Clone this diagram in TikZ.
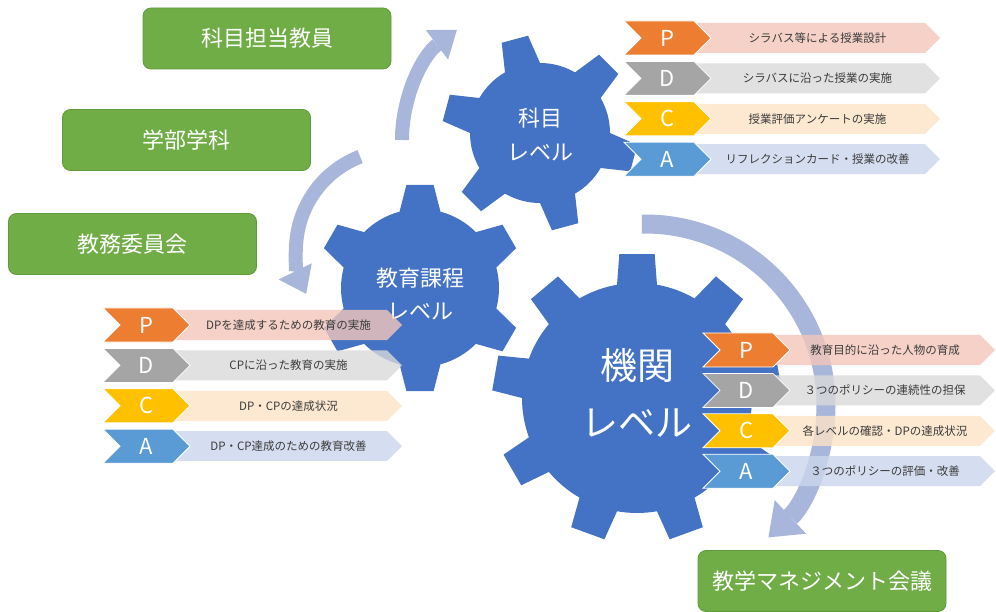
\documentclass[tikz,border=0pt]{standalone}
\usepackage{fontspec}
\setmainfont{Noto Sans CJK JP}
\usepackage{xcolor}
\usepackage{tikz}
\usetikzlibrary{calc}
\usetikzlibrary{positioning}
\usetikzlibrary{arrows.meta}
\usetikzlibrary{shapes.symbols}

\definecolor{cogblue}{HTML}{4472C4}
\definecolor{loopblue}{HTML}{A9B6DB}
\definecolor{rolegreen}{HTML}{70AD47}
\definecolor{roleedge}{HTML}{5F9A3B}
\definecolor{pcol}{HTML}{ED7D31}
\definecolor{dcol}{HTML}{A5A5A5}
\definecolor{ccol}{HTML}{FFC000}
\definecolor{acol}{HTML}{5B9BD5}
\definecolor{plight}{HTML}{F3C6BA}
\definecolor{dlight}{HTML}{D9D9D9}
\definecolor{clight}{HTML}{FCE4C7}
\definecolor{alight}{HTML}{CBD6EC}
\definecolor{chevtext}{HTML}{3B3B3B}

% cog: center, teeth, body radius, tip radius, first tooth, half angle at base, half angle at tip
\newcommand{\cogwheel}[7]{%
  \pgfmathsetmacro{\cogstep}{360/#2}
  \fill[cogblue,shift={#1}] ({#5-#6}:#3)
    \foreach \k in {1,...,#2}{
      -- ({#5+(\k-1)*\cogstep-#7}:#4) -- ({#5+(\k-1)*\cogstep+#7}:#4)
      -- ({#5+(\k-1)*\cogstep+#6}:#3)
      arc[start angle={#5+(\k-1)*\cogstep+#6}, end angle={#5+\k*\cogstep-#6}, radius=#3]
    } -- cycle;
}

\begin{document}
\begin{tikzpicture}[x=1pt,y=-1pt,
      role box/.style={rectangle,rounded corners=8pt,fill=rolegreen,draw=roleedge,
        line width=0.8pt,minimum width=248pt,minimum height=61pt,text=white,
        font=\fontsize{22}{26}\selectfont},
      cog label/.style={align=center,text=white},
      letter chev/.style={signal,signal from=west,signal to=east,signal pointer angle=90,
        draw=white,line width=0.8pt,minimum width=87pt,minimum height=34pt,inner sep=0pt,
        text=white,font=\fontsize{22}{24}\selectfont},
      text chev/.style={signal,signal from=west,signal to=east,signal pointer angle=90,
        minimum height=30pt,inner sep=0pt,fill opacity=0.8,text opacity=1,text=chevtext,
        font=\fontsize{11.5}{13}\selectfont},
      cycle arrow/.style={loopblue,line width=14pt,
        -{Triangle[width=37pt,length=25pt,line width=0pt]}}
      ]
      \useasboundingbox (0,0) rectangle (996,612);

      \coordinate (cS) at (540,133);
      \coordinate (cM) at (420,288);
      \coordinate (cL) at (637,398);
      \coordinate (aS) at (540,140);
      \coordinate (aM) at (396,250);
      \coordinate (aL) at (645,405);

      % gears
      \cogwheel{(cS)}{6}{70}{98}{15}{15}{8}
      \cogwheel{(cM)}{6}{79}{104}{30}{15}{7.5}
      \cogwheel{(cL)}{9}{115}{145}{30}{10}{7}

      \node[cog label,font=\fontsize{22}{34}\selectfont] (lS) at ([yshift=-2pt]cS) {科目\\レベル};
      \node[cog label,font=\fontsize{22}{33}\selectfont] (lM) at ([yshift=-6pt]cM) {教育課程\\レベル};
      \node[cog label,font=\fontsize{37}{57}\selectfont] (lL) at ([yshift=5pt]cL) {機関\\レベル};

      % circular arrows
      \draw[cycle arrow] ($(aS)+(-180:138)$) arc[start angle=-180,end angle=-127,radius=138];
      \draw[cycle arrow] ($(aM)+(-111:100)$) arc[start angle=-111,end angle=-206,radius=100];
      \draw[cycle arrow,line width=19pt,-{Triangle[width=46pt,length=30pt,line width=0pt]}]
        ($(aL)+(-91:181)$) arc[start angle=-91,end angle=47,radius=181];

      % roles
      \node[role box] (tch) at (267,38.5) {科目担当教員};
      \node[role box] (dept) at (186.5,140) {学部学科};
      \node[role box] (cmte) at (132.5,244) {教務委員会};
      \node[role box] (mgmt) at (822,581) {教学マネジメント会議};

      % PDCA of the subject level
      \node[text chev,fill=plight,minimum width=245pt] (sP) at (817.5,38) {シラバス等による授業設計};
      \node[text chev,fill=dlight,minimum width=245pt,below=10pt of sP] (sD) {シラバスに沿った授業の実施};
      \node[text chev,fill=clight,minimum width=245pt,below=10pt of sD] (sC) {授業評価アンケートの実施};
      \node[text chev,fill=alight,minimum width=245pt,below=10pt of sC] (sA) {リフレクションカード・授業の改善};
      \node[letter chev,fill=pcol] (sPk) at ([xshift=-150pt]sP) {P};
      \node[letter chev,fill=dcol] (sDk) at ([xshift=-150pt]sD) {D};
      \node[letter chev,fill=ccol] (sCk) at ([xshift=-150pt]sC) {C};
      \node[letter chev,fill=acol] (sAk) at ([xshift=-150pt]sA) {A};

      % PDCA of the curriculum level
      \node[text chev,fill=plight,minimum width=227pt] (mP) at (288.5,325) {DPを達成するための教育の実施};
      \node[text chev,fill=dlight,minimum width=227pt,below=10pt of mP] (mD) {CPに沿った教育の実施};
      \node[text chev,fill=clight,minimum width=227pt,below=10pt of mD] (mC) {DP・CPの達成状況};
      \node[text chev,fill=alight,minimum width=227pt,below=10pt of mC] (mA) {DP・CP達成のための教育改善};
      \node[letter chev,fill=pcol] (mPk) at ([xshift=-142pt]mP) {P};
      \node[letter chev,fill=dcol] (mDk) at ([xshift=-142pt]mD) {D};
      \node[letter chev,fill=ccol] (mCk) at ([xshift=-142pt]mC) {C};
      \node[letter chev,fill=acol] (mAk) at ([xshift=-142pt]mA) {A};

      % PDCA of the institution level
      \node[text chev,fill=plight,minimum width=220pt] (iP) at (885,350) {教育目的に沿った人物の育成};
      \node[text chev,fill=dlight,minimum width=220pt,below=10pt of iP] (iD) {３つのポリシーの連続性の担保};
      \node[text chev,fill=clight,minimum width=220pt,below=10pt of iD] (iC) {各レベルの確認・DPの達成状況};
      \node[text chev,fill=alight,minimum width=220pt,below=10pt of iC] (iA) {３つのポリシーの評価・改善};
      \node[letter chev,fill=pcol] (iPk) at ([xshift=-138.5pt]iP) {P};
      \node[letter chev,fill=dcol] (iDk) at ([xshift=-138.5pt]iD) {D};
      \node[letter chev,fill=ccol] (iCk) at ([xshift=-138.5pt]iC) {C};
      \node[letter chev,fill=acol] (iAk) at ([xshift=-138.5pt]iA) {A};
    \end{tikzpicture}
\end{document}
